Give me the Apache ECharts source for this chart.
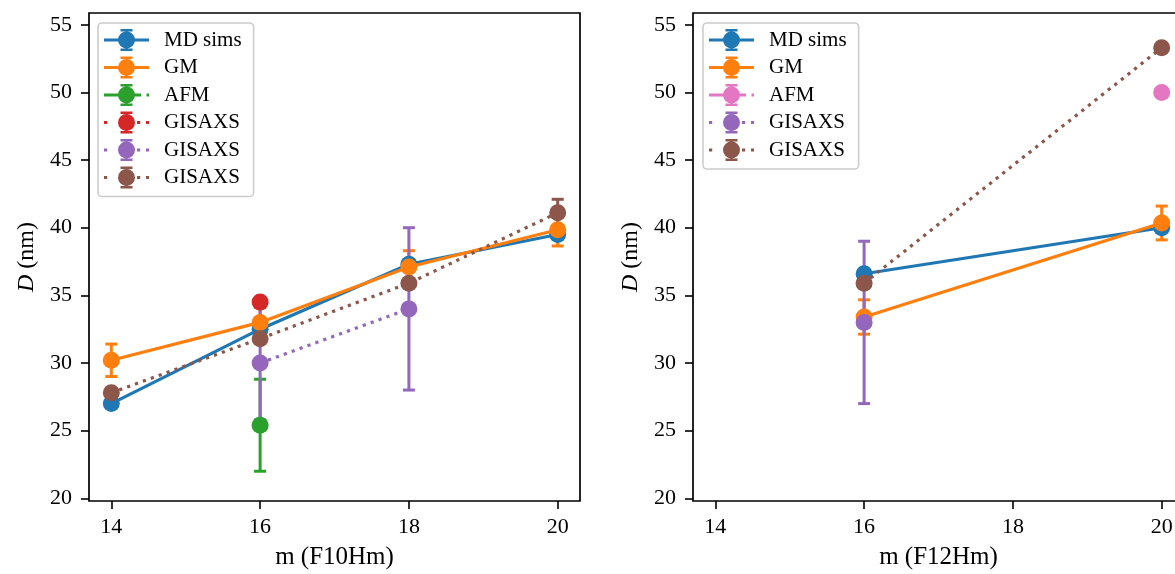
<!DOCTYPE html>
<html><head><meta charset="utf-8">
<script src="https://cdn.jsdelivr.net/npm/echarts@6/dist/echarts.min.js"></script>
<style>html,body{margin:0;padding:0;background:#fff;overflow:hidden}#c{width:1175px;height:574px}</style>
</head><body><div id="c"></div>
<script>
// ---------- data ----------
const xTickValues = [14, 16, 18, 20];
const yTickValues = [20, 25, 30, 35, 40, 45, 50, 55];
const xNameLeft = 'm (F10Hm)';
const xNameRight = 'm (F12Hm)';

// Left panel: F10Hm
const mLeftMD = [14, 16, 18, 20];
const dLeftMD = [27.0, 32.5, 37.3, 39.5];
const eLeftMD = [0, 0, 0, 0];
const mLeftGM = [14, 16, 18, 20];
const dLeftGM = [30.2, 33.0, 37.1, 39.85];
const eLeftGM = [1.2, 1.2, 1.2, 1.2];
const mLeftAFM = [16];
const dLeftAFM = [25.4];
const eLeftAFM = [3.4];
const mLeftGis1 = [16];
const dLeftGis1 = [34.5];
const eLeftGis1 = [0];
const mLeftGis2 = [16, 18];
const dLeftGis2 = [30.0, 34.0];
const eLeftGis2 = [4.2, 6.0];
const mLeftGis3 = [14, 16, 18, 20];
const dLeftGis3 = [27.8, 31.8, 35.9, 41.1];
const eLeftGis3 = [0, 0, 0, 1.0];

// Right panel: F12Hm
const mRightMD = [16, 20];
const dRightMD = [36.6, 40.0];
const eRightMD = [0, 0];
const mRightGM = [16, 20];
const dRightGM = [33.4, 40.35];
const eRightGM = [1.27, 1.25];
const mRightAFM = [20];
const dRightAFM = [50.0];
const eRightAFM = [0];
const mRightGis2 = [16];
const dRightGis2 = [33.0];
const eRightGis2 = [6.0];
const mRightGis3 = [16, 20];
const dRightGis3 = [35.9, 53.3];
const eRightGis3 = [0, 0];

const legendLeftLabels = ['MD sims', 'GM', 'AFM', 'GISAXS', 'GISAXS', 'GISAXS'];
const legendRightLabels = ['MD sims', 'GM', 'AFM', 'GISAXS', 'GISAXS'];

// ---------- styling ----------
const C = {blue:'#1f77b4', orange:'#ff7f0e', green:'#2ca02c', red:'#d62728', purple:'#9467bd', brown:'#8c564b', pink:'#e377c2'};
const FONT = 'Liberation Serif';
const LW = 3.2;
const DOT = [3.2, 5.2];

const circ = 'M14 11 A8.5 8.5 0 1 1 31 11 A8.5 8.5 0 1 1 14 11 Z';
const ebar = 'M21.3 0 H23.7 V22 H21.3 Z M16.5 0 H28.5 V2.5 H16.5 Z M16.5 19.5 H28.5 V22 H16.5 Z';
const iconSolid = 'path://M0 9.5 H45 V12.5 H0 Z ' + circ + ' ' + ebar;
const iconAfm = 'path://M0 9.5 H37 V12.5 H0 Z M42.5 9.5 H45 V12.5 H42.5 Z ' + circ + ' ' + ebar;
const iconDot = 'path://M0 9.5 H3.2 V12.5 H0 Z M33 9.5 H36.2 V12.5 H33 Z M42 9.5 H45 V12.5 H42 Z ' + circ + ' ' + ebar;

const seriesDefs = [
  {id:'L0', g:0, m:mLeftMD, d:dLeftMD, e:eLeftMD, color:C.blue, dash:'solid', icon:iconSolid},
  {id:'L1', g:0, m:mLeftGM, d:dLeftGM, e:eLeftGM, color:C.orange, dash:'solid', icon:iconSolid},
  {id:'L2', g:0, m:mLeftAFM, d:dLeftAFM, e:eLeftAFM, color:C.green, dash:'solid', icon:iconAfm},
  {id:'L3', g:0, m:mLeftGis1, d:dLeftGis1, e:eLeftGis1, color:C.red, dash:DOT, icon:iconDot},
  {id:'L4', g:0, m:mLeftGis2, d:dLeftGis2, e:eLeftGis2, color:C.purple, dash:DOT, icon:iconDot},
  {id:'L5', g:0, m:mLeftGis3, d:dLeftGis3, e:eLeftGis3, color:C.brown, dash:DOT, icon:iconDot},
  {id:'R0', g:1, m:mRightMD, d:dRightMD, e:eRightMD, color:C.blue, dash:'solid', icon:iconSolid},
  {id:'R1', g:1, m:mRightGM, d:dRightGM, e:eRightGM, color:C.orange, dash:'solid', icon:iconSolid},
  {id:'R2', g:1, m:mRightAFM, d:dRightAFM, e:eRightAFM, color:C.pink, dash:'solid', icon:iconAfm},
  {id:'R3', g:1, m:mRightGis2, d:dRightGis2, e:eRightGis2, color:C.purple, dash:DOT, icon:iconDot},
  {id:'R4', g:1, m:mRightGis3, d:dRightGis3, e:eRightGis3, color:C.brown, dash:DOT, icon:iconDot}
];
const labelMap = {};
seriesDefs.forEach((s) => {
  const arr = s.g === 0 ? legendLeftLabels : legendRightLabels;
  labelMap[s.id] = arr[parseInt(s.id.slice(1))];
});

function errRender(color) {
  return function (params, api) {
    const x = api.value(0), y = api.value(1), e = api.value(2);
    const t = api.coord([x, y + e]);
    const b = api.coord([x, y - e]);
    const h = 6;
    const st = {stroke: color, lineWidth: 3};
    return {type: 'group', children: [
      {type: 'line', shape: {x1: t[0], y1: t[1], x2: b[0], y2: b[1]}, style: st},
      {type: 'line', shape: {x1: t[0] - h, y1: t[1], x2: t[0] + h, y2: t[1]}, style: st},
      {type: 'line', shape: {x1: b[0] - h, y1: b[1], x2: b[0] + h, y2: b[1]}, style: st}
    ]};
  };
}

const series = [];
seriesDefs.forEach((s) => {
  const errData = [];
  s.m.forEach((x, k) => { if (s.e[k] > 0) errData.push([x, s.d[k], s.e[k]]); });
  if (errData.length) {
    series.push({
      type: 'custom', name: s.id + '_err', xAxisIndex: s.g, yAxisIndex: s.g, z: 1,
      renderItem: errRender(s.color), data: errData, silent: true, clip: false
    });
  }
});
seriesDefs.forEach((s, i) => {
  series.push({
    type: 'line', name: s.id, xAxisIndex: s.g, yAxisIndex: s.g, z: 10 + i,
    data: s.m.map((x, k) => [x, s.d[k]]),
    symbol: 'circle', symbolSize: 17, showSymbol: true,
    itemStyle: {color: s.color, borderWidth: 0},
    lineStyle: {color: s.color, width: LW, type: s.dash, cap: 'butt'},
    emphasis: {disabled: true}, silent: true, animation: false
  });
});

function xAxis(idx, name) {
  return {
    type: 'value', gridIndex: idx, min: 13.7, max: 20.3,
    name: name, nameLocation: 'middle', nameGap: 44,
    nameTextStyle: {fontFamily: FONT, fontSize: 25, color: '#000'},
    axisLine: {show: false},
    axisTick: {show: true, length: 8, inside: false, customValues: xTickValues, lineStyle: {color: '#000', width: 1.6}},
    axisLabel: {show: true, customValues: xTickValues, margin: 15, fontFamily: FONT, fontSize: 22, color: '#000'},
    splitLine: {show: false}
  };
}
function yAxis(idx) {
  return {
    type: 'value', gridIndex: idx, min: 19.8, max: 55.87,
    name: '{i|D} (nm)', nameLocation: 'middle', nameGap: 50, nameRotate: 90,
    nameTextStyle: {fontFamily: FONT, fontSize: 24, color: '#000', rich: {i: {fontFamily: FONT, fontSize: 24, fontStyle: 'italic', color: '#000'}}},
    axisLine: {show: false},
    axisTick: {show: true, length: 8, inside: false, customValues: yTickValues, lineStyle: {color: '#000', width: 1.6}},
    axisLabel: {show: true, customValues: yTickValues, margin: 17, fontFamily: FONT, fontSize: 22, color: '#000'},
    splitLine: {show: false}
  };
}
function legend(g, left) {
  const defs = seriesDefs.filter(s => s.g === g);
  return {
    show: true, orient: 'vertical', left: left, top: 23,
    padding: [6, 12, 8, 6], itemGap: 5.5, itemWidth: 45, itemHeight: 22,
    backgroundColor: 'rgba(255,255,255,0.8)', borderColor: '#cccccc', borderWidth: 1.6, borderRadius: 4,
    selectedMode: false, symbolKeepAspect: false,
    data: defs.map(s => ({name: s.id, icon: s.icon, itemStyle: {color: s.color, borderWidth: 0}})),
    formatter: n => labelMap[n],
    textStyle: {fontFamily: FONT, fontSize: 21, color: '#000', padding: [0, 0, 0, 10]}
  };
}

const option = {
  backgroundColor: '#ffffff',
  animation: false,
  textStyle: {fontFamily: FONT},
  grid: [
    {left: 89, width: 491, top: 13, height: 488, outerBoundsMode: 'none', containLabel: false, show: true, borderColor: '#000', borderWidth: 1.7, backgroundColor: 'transparent'},
    {left: 693, width: 491, top: 13, height: 488, outerBoundsMode: 'none', containLabel: false, show: true, borderColor: '#000', borderWidth: 1.7, backgroundColor: 'transparent'}
  ],
  xAxis: [xAxis(0, xNameLeft), xAxis(1, xNameRight)],
  yAxis: [yAxis(0), yAxis(1)],
  legend: [legend(0, 98), legend(1, 703)],
  series: series
};
const chart = echarts.init(document.getElementById('c'), null, {renderer: 'canvas'});
chart.setOption(option);
</script></body></html>
